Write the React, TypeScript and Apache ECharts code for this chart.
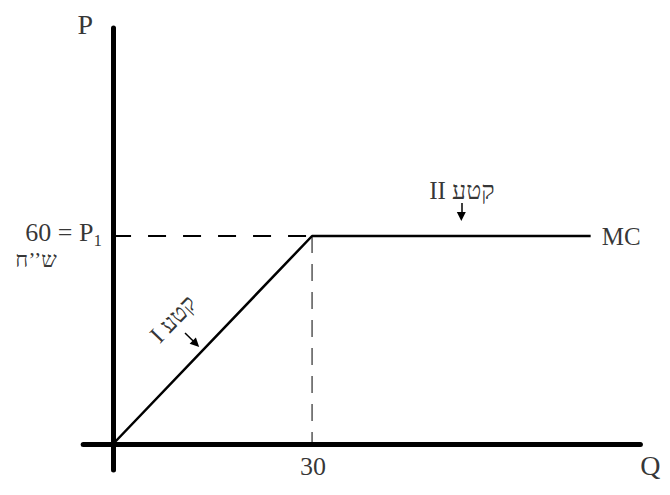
import React, { useEffect, useRef } from "react";
import * as echarts from "echarts";

// Marginal-cost curve (Q, P) and guide lines
const mcCurve: [number, number][] = [[0, 0], [30, 60], [72, 60]];
const priceGuide: [number, number][] = [[0, 60], [30, 60]];
const quantityGuide: [number, number][] = [[30, 60], [30, 0]];
const xRange = [-4.5, 79.5];
const yRange = [-7.5, 120];

// Annotation texts and their anchor points (data units)
const labelTexts = ["P", "Q", "30", "60 = P", "1", "ש’’ח", "MC", "II קטע", "I קטע"];
const labelAnchors: [number, number][] = [
  [-4.2, 121.1],
  [81.0, -6.3],
  [30.15, -6.6],
  [-8.1, 61.1],
  [-2.3, 58.6],
  [-11.6, 53.2],
  [76.6, 60.0],
  [52.6, 73.0],
  [9.05, 36.05],
];
const labelSizes = [28, 28, 26, 26, 17, 22, 25, 25, 24];
const labelRotations = [0, 0, 0, 0, 0, 0, 0, 0, 46];

// Arrows pointing to the two segments
const arrowSegments: [number, number][][] = [
  [[52.5, 69.5], [52.5, 65.6]],
  [[10.85, 32.0], [12.5, 28.9]],
];

const FONT = '"Liberation Serif", "Times New Roman", serif';

export default function App() {
  const ref = useRef<HTMLDivElement>(null);
  useEffect(() => {
    if (!ref.current) return;
    const chart = echarts.init(ref.current, undefined, { renderer: "svg" });
    const axisCommon = {
      type: "value" as const,
      axisTick: { show: false },
      axisLabel: { show: false },
      splitLine: { show: false },
    };
    chart.setOption({
      animation: false,
      backgroundColor: "#fff",
      grid: { left: 83.2, right: 29.6, top: 28, bottom: 25 },
      xAxis: {
        ...axisCommon,
        min: xRange[0],
        max: xRange[1],
        axisLine: { show: true, onZero: true, lineStyle: { color: "#000", width: 5 } },
      },
      yAxis: {
        ...axisCommon,
        min: yRange[0],
        max: yRange[1],
        axisLine: { show: true, onZero: true, lineStyle: { color: "#000", width: 5 } },
      },
      series: [
        {
          type: "line",
          data: priceGuide,
          showSymbol: false,
          symbol: "none",
          clip: false,
          silent: true,
          lineStyle: { color: "#000", width: 2, type: [18, 17] },
        },
        {
          type: "line",
          data: quantityGuide,
          showSymbol: false,
          symbol: "none",
          clip: false,
          silent: true,
          lineStyle: { color: "#000", width: 1, type: [17, 11] },
        },
        {
          type: "line",
          data: mcCurve,
          showSymbol: false,
          symbol: "none",
          clip: false,
          silent: true,
          lineStyle: { color: "#000", width: 2.5 },
          markLine: {
            silent: true,
            symbol: ["none", "triangle"],
            symbolSize: 9,
            label: { show: false },
            lineStyle: { color: "#000", width: 1.5, type: "solid" },
            data: arrowSegments.map((seg) => [{ coord: seg[0] }, { coord: seg[1] }]),
          },
        },
        {
          type: "scatter",
          symbolSize: 1,
          clip: false,
          silent: true,
          itemStyle: { color: "rgba(0,0,0,0)" },
          data: labelTexts.map((t, i) => ({
            value: labelAnchors[i],
            label: {
              show: true,
              formatter: () => t,
              position: "inside",
              align: "center",
              verticalAlign: "middle",
              fontSize: labelSizes[i],
              rotate: labelRotations[i],
              color: "#000",
              fontFamily: FONT,
            },
          })),
        },
      ],
    });
    return () => chart.dispose();
  }, []);
  return (
    <div
      ref={ref}
      style={{ position: "fixed", left: 0, top: 0, width: 670, height: 495, background: "#fff" }}
    />
  );
}
